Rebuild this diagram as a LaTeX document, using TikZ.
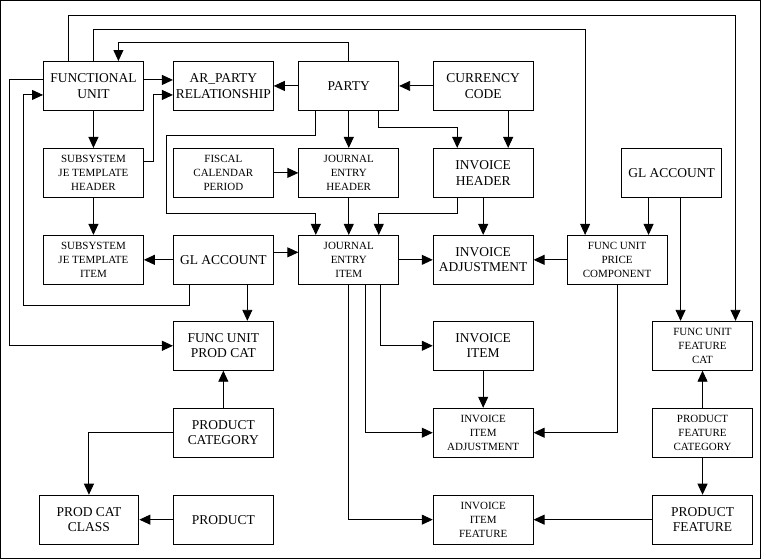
\documentclass[tikz,border=0pt]{standalone}
\usepackage{fontspec}
\setmainfont{Liberation Serif}
\usepackage{tikz}
\usetikzlibrary{arrows.meta,positioning,calc}

\begin{document}
\begin{tikzpicture}[x=1pt,y=-1pt,line width=0.9pt,
    entity/.style={draw, minimum width=100pt, minimum height=49pt, inner sep=1pt,
        align=center, font=\fontsize{13.5}{15.5}\selectfont},
    smallentity/.style={entity, font=\fontsize{11}{14}\selectfont},
    rel/.style={-{Triangle[length=11pt,width=10pt]}}]
    \useasboundingbox (-0.5,-0.5) rectangle (766,559);
    \draw (0,0) rectangle (760,558);
    % row 1
    \node[entity] (fu) at (93,85.5) {FUNCTIONAL\\UNIT};
    \node[entity] (ar) at (223,85.5) {AR\_PARTY\\RELATIONSHIP};
    \node[entity] (party) at (348.5,85.5) {PARTY};
    \node[entity] (cc) at (483,85.5) {CURRENCY\\CODE};
    % row 2
    \node[smallentity] (sjh) at (93,172.5) {SUBSYSTEM\\JE TEMPLATE\\HEADER};
    \node[smallentity] (fcp) at (223,172.5) {FISCAL\\CALENDAR\\PERIOD};
    \node[smallentity] (jeh) at (348.5,172.5) {JOURNAL\\ENTRY\\HEADER};
    \node[entity] (ih) at (483,172.5) {INVOICE\\HEADER};
    \node[entity] (glr) at (671.5,172.5) {GL ACCOUNT};
    % row 3
    \node[smallentity] (sji) at (93,259.5) {SUBSYSTEM\\JE TEMPLATE\\ITEM};
    \node[entity] (gl) at (223,259.5) {GL ACCOUNT};
    \node[smallentity] (jei) at (348.5,259.5) {JOURNAL\\ENTRY\\ITEM};
    \node[entity] (ia) at (483,259.5) {INVOICE\\ADJUSTMENT};
    \node[smallentity] (price) at (617,259.5) {FUNC UNIT\\PRICE\\COMPONENT};
    % row 4
    \node[entity] (fpc) at (223,345.5) {FUNC UNIT\\PROD CAT};
    \node[entity] (ii) at (483,345.5) {INVOICE\\ITEM};
    \node[smallentity] (fucat) at (702.5,345.5) {FUNC UNIT\\FEATURE\\CAT};
    % row 5
    \node[entity] (pc) at (223,432.5) {PRODUCT\\CATEGORY};
    \node[smallentity] (iia) at (483,432.5) {INVOICE\\ITEM\\ADJUSTMENT};
    \node[smallentity] (pfc) at (702.5,432.5) {PRODUCT\\FEATURE\\CATEGORY};
    % row 6
    \node[entity] (pcc) at (88.5,519.5) {PROD CAT\\CLASS};
    \node[entity] (prod) at (223,519.5) {PRODUCT};
    \node[smallentity] (iif) at (483,519.5) {INVOICE\\ITEM\\FEATURE};
    \node[entity] (pf) at (702.5,519.5) {PRODUCT\\FEATURE};

    % functional unit links
    \draw[rel] ([yshift=6pt]fu.east) -- ([yshift=6pt]ar.west);
    \draw[rel] ([yshift=11pt]sjh.east) -- ++(10pt,0) |- ([yshift=-9pt]ar.west);
    \draw[rel] (party.west) -- (ar.east);
    \draw[rel] (party.north) -- ++(0,19pt) -| ([xshift=25pt]fu.north);
    \draw[rel] ([xshift=-25pt]fu.north) -- ++(0,46pt) -| ([xshift=33pt]fucat.north);
    \draw[rel] (fu.north) -- ++(0,32pt) -| ([xshift=-32pt]price.north);
    \draw[rel] ([yshift=6pt]fu.west) -- ++(-34pt,0) |- (fpc.west);
    \draw[rel] ([xshift=-34pt]gl.south) -- ++(0,-21pt) -| ([xshift=-20pt,yshift=-9pt]fu.west)
        -- ([yshift=-9pt]fu.west);
    \draw[rel] (fu.south) -- (sjh.north);
    \draw[rel] (sjh.south) -- (sji.north);
    % gl account
    \draw[rel] (gl.west) -- (sji.east);
    \draw[rel] ([yshift=7.5pt]gl.east) -- ([yshift=7.5pt]jei.west);
    \draw[rel] ([xshift=24pt]gl.south) -- ([xshift=24pt]fpc.north);
    % products
    \draw[rel] (pc.north) -- (fpc.south);
    \draw[rel] (pc.west) -| (pcc.north);
    \draw[rel] (prod.west) -- (pcc.east);
    % journal entries
    \draw[rel] (party.south) -- (jeh.north);
    \draw[rel] (fcp.east) -- (jeh.west);
    \draw[rel] ([xshift=-33pt]party.south) -- ++(0,-25pt) -- ++(-149pt,0) -- ++(0,-78pt)
        -| ([xshift=-33pt]jei.north);
    \draw[rel] ([xshift=30pt]party.south) -- ++(0,-17pt) -| ([xshift=-26pt]ih.north);
    \draw[rel] ([xshift=25pt]cc.south) -- ([xshift=25pt]ih.north);
    \draw[rel] (cc.west) -- (party.east);
    \draw[rel] (jeh.south) -- (jei.north);
    \draw[rel] ([xshift=-26pt]ih.south) -- ++(0,-16pt) -| ([xshift=30pt]jei.north);
    % invoices
    \draw[rel] (ih.south) -- (ia.north);
    \draw[rel] (jei.east) -- (ia.west);
    \draw[rel] (price.west) -- (ia.east);
    \draw[rel] ([xshift=-23pt]glr.south) -- ([xshift=-23pt]glr.south |- price.north);
    \draw[rel] ([xshift=9pt]glr.south) -- ([xshift=9pt]glr.south |- fucat.north);
    \draw[rel] ([xshift=32pt]jei.south) |- (ii.west);
    \draw[rel] ([xshift=17pt]jei.south) |- (iia.west);
    \draw[rel] (jei.south) |- (iif.west);
    \draw[rel] (ii.south) -- (iia.north);
    \draw[rel] (price.south) |- (iia.east);
    % features
    \draw[rel] (pfc.north) -- (fucat.south);
    \draw[rel] (pfc.south) -- (pf.north);
    \draw[rel] (pf.west) -- (iif.east);
\end{tikzpicture}
\end{document}
